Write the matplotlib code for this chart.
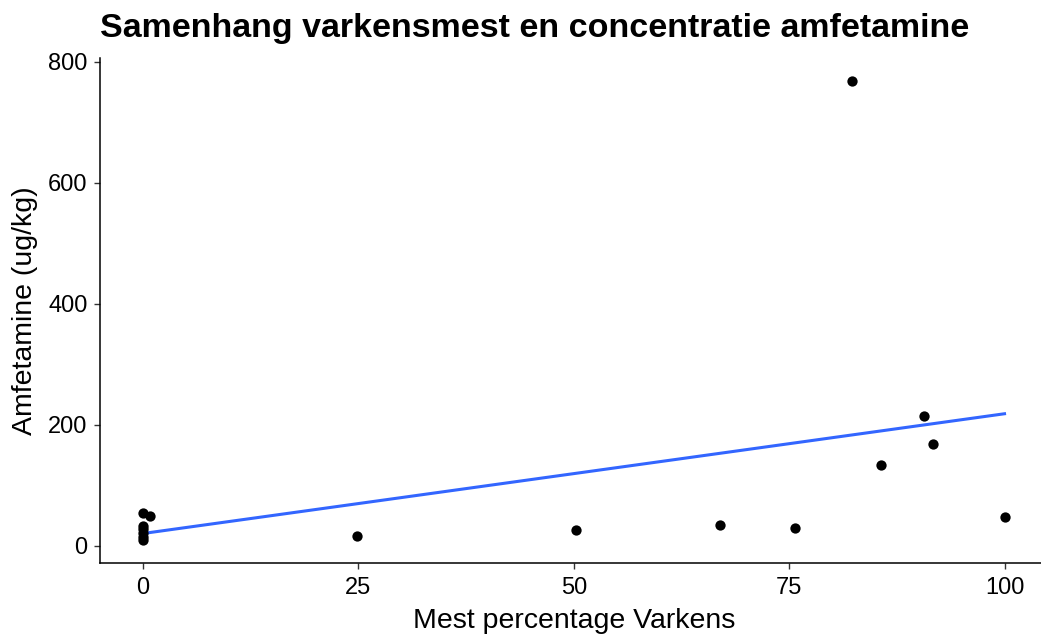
import numpy as np
import matplotlib
matplotlib.use("Agg")
import matplotlib.pyplot as plt

plt.rcParams['font.family'] = ['Liberation Sans', 'DejaVu Sans']

# percentage pig manure vs amphetamine concentration
varkens_pct = [0, 0, 0, 0, 0, 0, 0.8, 24.8, 50.3, 67.0, 75.7, 82.3, 85.7, 90.6, 91.7, 100]
amfetamine = [55, 33, 27, 21, 15, 10, 49, 16, 26, 35, 30, 768, 133, 215, 169, 47]
xticks = [0, 25, 50, 75, 100]
yticks = [0, 200, 400, 600, 800]

x = np.array(varkens_pct, dtype=float)
y = np.array(amfetamine, dtype=float)

fig = plt.figure(figsize=(10.41, 6.39), dpi=100)
ax = fig.add_axes([100 / 1041, 76.3 / 639, 947.6 / 1041, 504.7 / 639])

ax.scatter(x, y, s=55, color='black', zorder=3, linewidths=0)

# linear fit over the data range
slope, intercept = np.polyfit(x, y, 1)
xs = np.linspace(x.min(), x.max(), 100)
ax.plot(xs, slope * xs + intercept, color='#3366FF', lw=2.2, zorder=2)

xr = x.max() - x.min()
yr = y.max() - y.min()
ax.set_xlim(x.min() - 0.05 * xr, x.max() + 0.05 * xr)
ax.set_ylim(y.min() - 0.05 * yr, y.max() + 0.05 * yr)
ax.set_xticks(xticks)
ax.set_yticks(yticks)

for side in ['top', 'right']:
    ax.spines[side].set_visible(False)
for side in ['left', 'bottom']:
    ax.spines[side].set_linewidth(1.1)
    ax.spines[side].set_color('black')
ax.tick_params(direction='out', length=4, width=1.0, color='#333333',
               labelsize=17, labelcolor='black')
ax.tick_params(axis='x', pad=6)
ax.tick_params(axis='y', pad=5)

ax.set_xlabel('Mest percentage Varkens', fontsize=20.5, labelpad=7)
ax.set_ylabel('Amfetamine (ug/kg)', fontsize=20.5, labelpad=7)
ax.set_title('Samenhang varkensmest en concentratie amfetamine',
             fontsize=24.5, fontweight='bold', loc='left', pad=15)

fig.savefig('out.png', dpi=100)
